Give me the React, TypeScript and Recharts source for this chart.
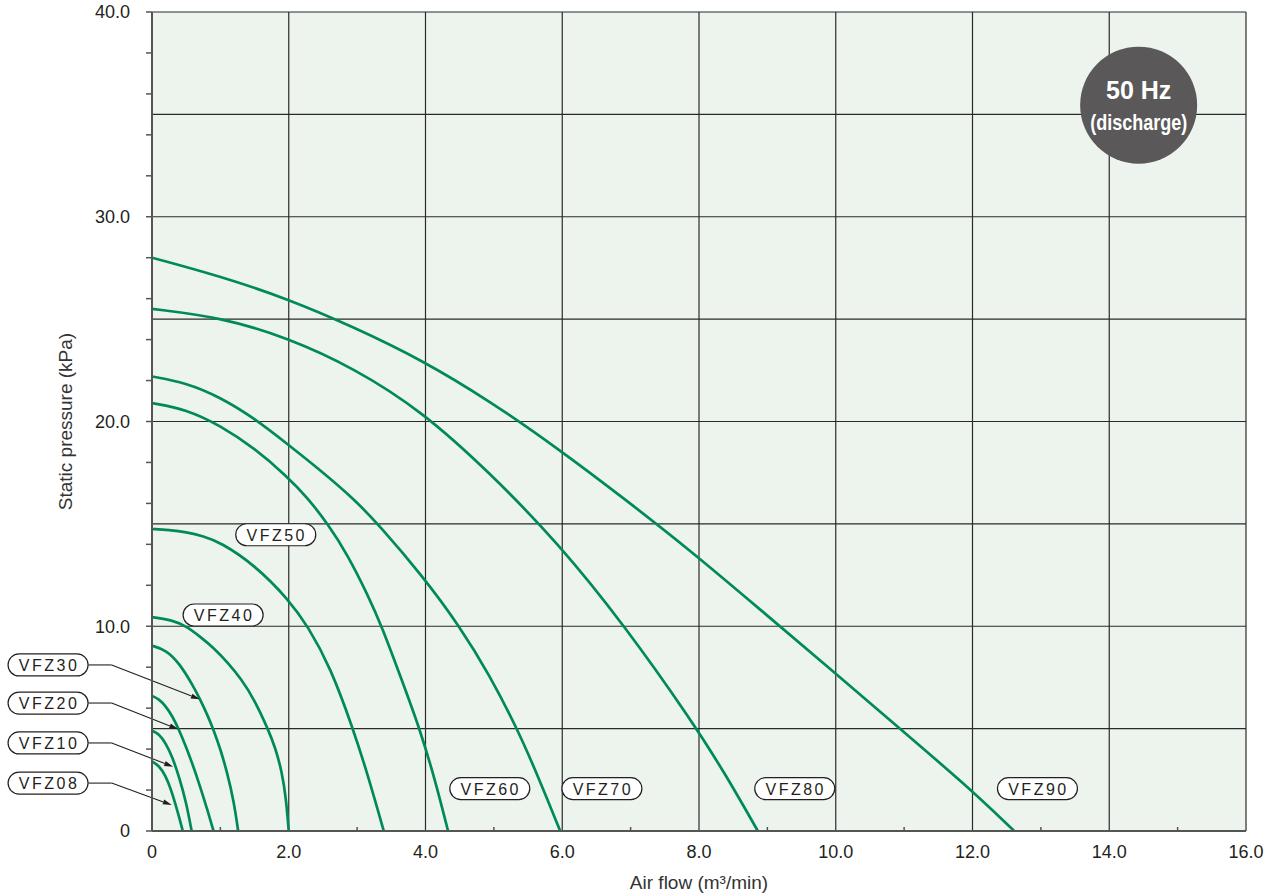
import React from "react"
import { LineChart, Line, XAxis, YAxis, CartesianGrid, ReferenceDot, ReferenceLine, Label } from "recharts"

type Pt = [number, number]

// air flow (m3/min), static pressure (kPa)
const vfz08: Pt[] = [[0, 3.4], [0.1, 3.2], [0.2, 2.7], [0.28, 2.0], [0.34, 1.35], [0.4, 0.65], [0.45, 0]]
const vfz10: Pt[] = [[0, 4.9], [0.1, 4.75], [0.2, 4.3], [0.3, 3.6], [0.4, 2.6], [0.5, 1.4], [0.58, 0]]
const vfz20: Pt[] = [[0, 6.6], [0.1, 6.45], [0.2, 6.1], [0.3, 5.6], [0.4, 4.9], [0.5, 4.1], [0.6, 3.2], [0.7, 2.2], [0.8, 1.15], [0.9, 0]]
const vfz30: Pt[] = [[0, 9.05], [0.2, 8.85], [0.4, 8.2], [0.6, 7.1], [0.7, 6.45], [0.8, 5.75], [0.9, 4.95], [1.0, 4.0], [1.1, 2.85], [1.2, 1.4], [1.26, 0]]
const vfz40: Pt[] = [[0, 10.45], [0.3, 10.3], [0.5, 10.0], [0.7, 9.5], [0.9, 8.95], [1.1, 8.25], [1.3, 7.45], [1.5, 6.4], [1.7, 4.95], [1.8, 4.1], [1.9, 2.9], [1.96, 1.6], [2.0, 0]]
const vfz50: Pt[] = [[0, 14.75], [0.25, 14.7], [0.5, 14.6], [0.75, 14.4], [1, 14.1], [1.5, 13.0], [2, 11.3], [2.28, 10.0], [2.61, 8.0], [2.94, 5.0], [3.16, 2.7], [3.39, 0]]
const vfz60: Pt[] = [[0, 20.9], [0.5, 20.6], [1, 19.8], [1.5, 18.7], [1.98, 17.3], [2.27, 16.3], [2.57, 15.0], [2.86, 13.5], [3.16, 11.5], [3.36, 10.0], [3.65, 7.4], [3.915, 5.0], [4.14, 2.5], [4.33, 0]]
const vfz70: Pt[] = [[0, 22.2], [0.49, 21.9], [0.99, 21.2], [1.48, 20.2], [1.98, 18.9], [2.47, 17.6], [2.96, 16.2], [3.33, 14.9], [3.945, 12.5], [4.5, 10.0], [4.94, 7.6], [5.34, 5.0], [5.63, 2.8], [5.97, 0]]
const vfz80: Pt[] = [[0, 25.5], [0.99, 25.1], [1.98, 24.1], [2.96, 22.6], [3.95, 20.5], [4.94, 17.5], [5.93, 14.1], [6.92, 10.0], [7.91, 5.3], [8.4, 2.7], [8.86, 0]]
const vfz90: Pt[] = [[0, 28.0], [0.99, 27.1], [1.98, 26.0], [2.96, 24.6], [3.95, 23.0], [4.94, 21.0], [5.93, 18.7], [6.92, 16.2], [7.91, 13.6], [8.9, 10.8], [9.89, 8.0], [10.9, 5.1], [11.92, 2.2], [12.61, 0]]

const curves: [string, Pt[]][] = [
  ["VFZ08", vfz08], ["VFZ10", vfz10], ["VFZ20", vfz20], ["VFZ30", vfz30], ["VFZ40", vfz40],
  ["VFZ50", vfz50], ["VFZ60", vfz60], ["VFZ70", vfz70], ["VFZ80", vfz80], ["VFZ90", vfz90],
]

const xTicks = [0, 1, 2, 3, 4, 5, 6, 7, 8, 9, 10, 11, 12, 13, 14, 15, 16]
const yTicks = [0, 2, 4, 6, 8, 10, 12, 14, 16, 18, 20, 22, 24, 26, 28, 30, 32, 34, 36, 38, 40]
const xGrid = [2, 4, 6, 8, 10, 12, 14, 16]
const yGrid = [5, 10, 15, 20, 25, 30, 35, 40]

// pill labels placed inside the plot
const innerLabels: [string, number, number][] = [
  ["VFZ50", 1.81, 14.47], ["VFZ40", 1.04, 10.55],
  ["VFZ60", 4.94, 2.07], ["VFZ70", 6.58, 2.07], ["VFZ80", 9.4, 2.07], ["VFZ90", 12.95, 2.07],
]
// pill labels left of the axis with leader arrows: name, label y, arrow tip x, arrow tip y
const leaderLabels: [string, number, number, number][] = [
  ["VFZ30", 8.11, 0.7, 6.43],
  ["VFZ20", 6.25, 0.385, 4.97],
  ["VFZ10", 4.3, 0.31, 3.14],
  ["VFZ08", 2.34, 0.29, 1.27],
]
const leaderLabelX = -1.52
const leaderEdgeX = -0.93
const leaderBendX = -0.59

const GREEN = "#008a5a"
const INK = "#231f20"
const FONT = "'Liberation Sans', Arial, sans-serif"

const pill = (text: string) => (p: any) => (
  <g>
    <rect x={p.cx - 40} y={p.cy - 11} width={80} height={22} rx={11} fill="#fff" stroke={INK} strokeWidth={1.2} />
    <text x={p.cx + 1} y={p.cy + 6} textAnchor="middle" fontSize={16} letterSpacing={2.5} fill={INK} fontFamily={FONT}>
      {text}
    </text>
  </g>
)

function Arrow(p: any) {
  const { x1, y1, x2, y2 } = p
  const a = Math.atan2(y2 - y1, x2 - x1)
  const bx = x2 - 9 * Math.cos(a)
  const by = y2 - 9 * Math.sin(a)
  const nx = -Math.sin(a) * 2.6
  const ny = Math.cos(a) * 2.6
  return (
    <g>
      <line x1={x1} y1={y1} x2={bx} y2={by} stroke={INK} strokeWidth={1.1} />
      <polygon points={`${x2},${y2} ${bx + nx},${by + ny} ${bx - nx},${by - ny}`} fill={INK} />
    </g>
  )
}

function Badge(p: any) {
  return (
    <g>
      <circle cx={p.cx} cy={p.cy} r={58.5} fill="#5a5858" />
      <text x={p.cx} y={p.cy - 6.5} textAnchor="middle" fontSize={25} fontWeight="bold" fill="#fff" fontFamily={FONT}>
        50 Hz
      </text>
      <text
        x={p.cx}
        y={p.cy + 25}
        textAnchor="middle"
        fontSize={22}
        fontWeight="bold"
        fill="#fff"
        fontFamily="'Liberation Sans Narrow', 'Liberation Sans', Arial, sans-serif"
        textLength={97}
        lengthAdjust="spacingAndGlyphs"
      >
        (discharge)
      </text>
    </g>
  )
}

function XTick(props: any) {
  const { x, y, payload } = props
  const v = payload.value as number
  if (v % 2 !== 0) {
    return <line x1={x} x2={x} y1={y} y2={y - 4} stroke="#555" strokeWidth={1.5} />
  }
  return (
    <text x={x} y={y + 27} textAnchor="middle" fontSize={18} fill={INK} fontFamily={FONT}>
      {v === 0 ? "0" : v.toFixed(1)}
    </text>
  )
}

const XTitle = ({ viewBox }: any) => (
  <text x={viewBox.x + viewBox.width / 2} y={viewBox.y + 58} textAnchor="middle" fontSize={19} fill="#333" fontFamily={FONT}>
    Air flow (m³/min)
  </text>
)

const YTitle = ({ viewBox }: any) => {
  const cx = viewBox.x + 13
  const cy = viewBox.y + viewBox.height / 2
  return (
    <text
      x={cx}
      y={cy}
      transform={`rotate(-90 ${cx} ${cy})`}
      textAnchor="middle"
      dominantBaseline="central"
      fontSize={19}
      fill="#333"
      fontFamily={FONT}
    >
      Static pressure (kPa)
    </text>
  )
}

export default function App() {
  return (
    <div style={{ position: "absolute", left: 0, top: 0, width: 1274, height: 896, background: "#fff", fontFamily: FONT }}>
      <LineChart width={1274} height={896} margin={{ top: 12, right: 28, bottom: 15, left: 52 }}>
        <CartesianGrid
          fill="#edf4ed"
          fillOpacity={1}
          stroke="#2a2a2a"
          strokeWidth={1.2}
          horizontalValues={yGrid}
          verticalValues={xGrid}
        />
        <XAxis
          type="number"
          dataKey="x"
          domain={[0, 16]}
          ticks={xTicks}
          interval={0}
          allowDataOverflow
          tickSize={0}
          tickMargin={0}
          tickLine={false}
          tick={<XTick />}
          height={50}
          axisLine={{ stroke: "#555", strokeWidth: 2 }}
        >
          <Label content={<XTitle />} />
        </XAxis>
        <YAxis
          type="number"
          domain={[0, 40]}
          ticks={yTicks}
          interval={0}
          allowDataOverflow
          width={100}
          tickSize={6}
          tickMargin={16}
          tickLine={{ stroke: "#555", strokeWidth: 1.5 }}
          axisLine={{ stroke: "#555", strokeWidth: 2 }}
          tick={{ fontSize: 18, fill: INK, fontFamily: FONT }}
          tickFormatter={(v: number) => (v % 10 === 0 ? (v === 0 ? "0" : v.toFixed(1)) : "")}
        >
          <Label content={<YTitle />} />
        </YAxis>
        {curves.map(([name, pts]) => (
          <Line
            key={name}
            name={name}
            data={pts.map(([x, y]) => ({ x, y }))}
            dataKey="y"
            type="basis"
            stroke={GREEN}
            strokeWidth={2.7}
            dot={false}
            activeDot={false}
            isAnimationActive={false}
          />
        ))}
        {leaderLabels.map(([name, ly]) => (
          <ReferenceLine
            key={name + "-h"}
            segment={[{ x: leaderEdgeX, y: ly }, { x: leaderBendX, y: ly }]}
            stroke={INK}
            strokeWidth={1.1}
            ifOverflow="visible"
          />
        ))}
        {leaderLabels.map(([name, ly, tx, ty]) => (
          <ReferenceLine
            key={name + "-a"}
            segment={[{ x: leaderBendX, y: ly }, { x: tx, y: ty }]}
            ifOverflow="visible"
            shape={Arrow}
          />
        ))}
        {leaderLabels.map(([name, ly]) => (
          <ReferenceDot key={name} x={leaderLabelX} y={ly} ifOverflow="visible" shape={pill(name)} />
        ))}
        {innerLabels.map(([name, x, y]) => (
          <ReferenceDot key={name} x={x} y={y} ifOverflow="visible" shape={pill(name)} />
        ))}
        <ReferenceDot x={14.43} y={35.45} ifOverflow="visible" shape={Badge} />
      </LineChart>
    </div>
  )
}
